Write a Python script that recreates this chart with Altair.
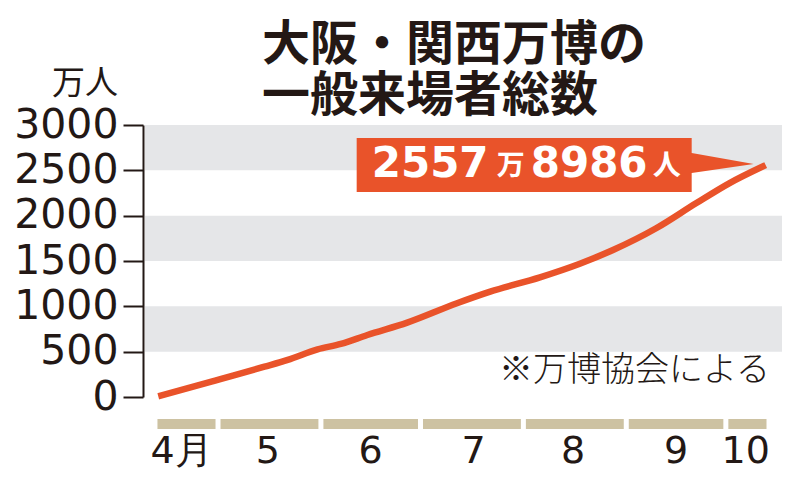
import altair as alt
import pandas as pd

# ---------------- data ----------------
title_lines = ["大阪・関西万博の", "一般来場者総数"]
unit_label = "万人"
source_note = "※万博協会による"

dates = ["2025-04-13", "2025-04-29", "2025-05-15", "2025-05-22", "2025-05-31",
         "2025-06-07", "2025-06-15", "2025-06-27", "2025-07-12", "2025-07-22",
         "2025-08-06", "2025-08-18", "2025-08-28", "2025-09-10", "2025-09-22",
         "2025-10-02", "2025-10-13"]
visitors = [8, 169, 334, 410, 525,
            585, 684, 820, 1034, 1162,
            1320, 1470, 1621, 1861, 2136,
            2357, 2557.8986]

y_ticks = [0, 500, 1000, 1500, 2000, 2500, 3000]
band_lo = [500, 1500, 2500]
band_hi = [1000, 2000, 3000]

month_start = ["2025-04-12", "2025-05-01", "2025-06-01", "2025-07-01",
               "2025-08-01", "2025-09-01", "2025-10-01"]
month_end = ["2025-05-01", "2025-06-01", "2025-07-01", "2025-08-01",
             "2025-09-01", "2025-10-01", "2025-10-14"]
month_labels = ["4月", "5", "6", "7", "8", "9", "10"]
label_dates = ["2025-04-20", "2025-05-16", "2025-06-16", "2025-07-17",
               "2025-08-16", "2025-09-16", "2025-10-07"]

total_parts = ["2557", "万", "8986", "人"]

# ---------------- styles ----------------
ORANGE = "#e9532a"
TEXT = "#231815"
BAND = "#e5e6e8"
TAN = "#cdc2a2"
W, H = 637, 272

line_df = pd.DataFrame({"date": pd.to_datetime(dates), "v": visitors})
band_df = pd.DataFrame({"lo": band_lo, "hi": band_hi})
month_df = pd.DataFrame({"s": pd.to_datetime(month_start), "e": pd.to_datetime(month_end)})
mlabel_df = pd.DataFrame({"d": pd.to_datetime(label_dates), "t": month_labels})
last_df = line_df.tail(1)

xscale = alt.Scale(domain=[alt.DateTime(year=2025, month=4, date=9),
                           alt.DateTime(year=2025, month=10, date=17, hours=22)])
yscale = alt.Scale(domain=[0, 3000], nice=False, zero=True)

yaxis = alt.Axis(values=y_ticks, grid=False, title=None, format="d",
                 labelFont="DejaVu Sans", labelFontSize=41, labelColor=TEXT,
                 labelPadding=5, tickSize=20, tickWidth=2, tickColor=TEXT,
                 domainColor=TEXT, domainWidth=2, offset=2, labelFlush=False)

bands = alt.Chart(band_df).mark_rect(color=BAND).encode(
    x=alt.value(0), x2=alt.value(W),
    y=alt.Y("lo:Q", scale=yscale, axis=yaxis), y2="hi:Q")

line = alt.Chart(line_df).mark_line(color=ORANGE, strokeWidth=6.5,
                                    interpolate="monotone", strokeCap="butt").encode(
    x=alt.X("date:T", scale=xscale, axis=None),
    y=alt.Y("v:Q", scale=yscale, axis=yaxis))

months = alt.Chart(month_df).mark_rect(color=TAN, xOffset=2.5, x2Offset=-2.5).encode(
    x=alt.X("s:T", scale=xscale, axis=None), x2="e:T",
    y=alt.value(294), y2=alt.value(304))

mlabels = alt.Chart(mlabel_df).mark_text(font="DejaVu Sans", fontSize=38, color=TEXT,
                                         baseline="middle", align="center").encode(
    x=alt.X("d:T", scale=xscale, axis=None), y=alt.value(327), text="t:N")

box_path = "M-409,-27 L-74,-27 L-74,-12 L-12,-1 L-74,8 L-74,27 L-409,27 Z"
box = alt.Chart(last_df).mark_point(shape=box_path, size=4, filled=True,
                                    fill=ORANGE, opacity=1, strokeWidth=0).encode(
    x=alt.X("date:T", scale=xscale, axis=None), y=alt.Y("v:Q", scale=yscale, axis=yaxis))

part_style = [
    (-394, 12, "DejaVu Sans", 42),
    (-269, 10, "Noto Sans CJK JP", 28),
    (-235, 12, "DejaVu Sans", 42),
    (-113, 10, "Noto Sans CJK JP", 28),
]
parts = []
for txt, (dx, dy, font, size) in zip(total_parts, part_style):
    parts.append(alt.Chart(last_df).mark_text(
        font=font, fontSize=size, fontWeight="bold", color="white",
        align="left", baseline="alphabetic", dx=dx, dy=dy).encode(
        x=alt.X("date:T", scale=xscale, axis=None),
        y=alt.Y("v:Q", scale=yscale, axis=yaxis),
        text=alt.value(txt)))

title_marks = []
for txt, ypos in zip(title_lines, [-79, -28]):
    title_marks.append(alt.Chart(pd.DataFrame({"t": [txt]})).mark_text(
        font="Noto Sans CJK JP", fontSize=48, fontWeight="bold", color=TEXT,
        align="left", baseline="middle").encode(
        x=alt.value(117), y=alt.value(ypos), text="t:N"))

unit = alt.Chart(pd.DataFrame({"t": [unit_label]})).mark_text(
    font="Noto Sans CJK JP", fontSize=33, color=TEXT,
    align="right", baseline="middle").encode(
    x=alt.value(-27), y=alt.value(-41), text="t:N")

note = alt.Chart(pd.DataFrame({"t": [source_note]})).mark_text(
    font="Noto Sans CJK JP", fontSize=34, fontWeight=300, color=TEXT,
    align="right", baseline="middle").encode(
    x=alt.value(625), y=alt.value(246), text="t:N")

chart = alt.layer(bands, line, months, mlabels, box, *parts, *title_marks, unit, note).properties(
    width=W, height=H,
    padding={"left": 137, "top": 117, "right": 10, "bottom": 90},
    autosize=alt.AutoSizeParams(type="none"),
).configure_view(stroke=None).resolve_scale(y="shared")

chart.save("out.html", embed_options={"renderer": "svg", "actions": False})
